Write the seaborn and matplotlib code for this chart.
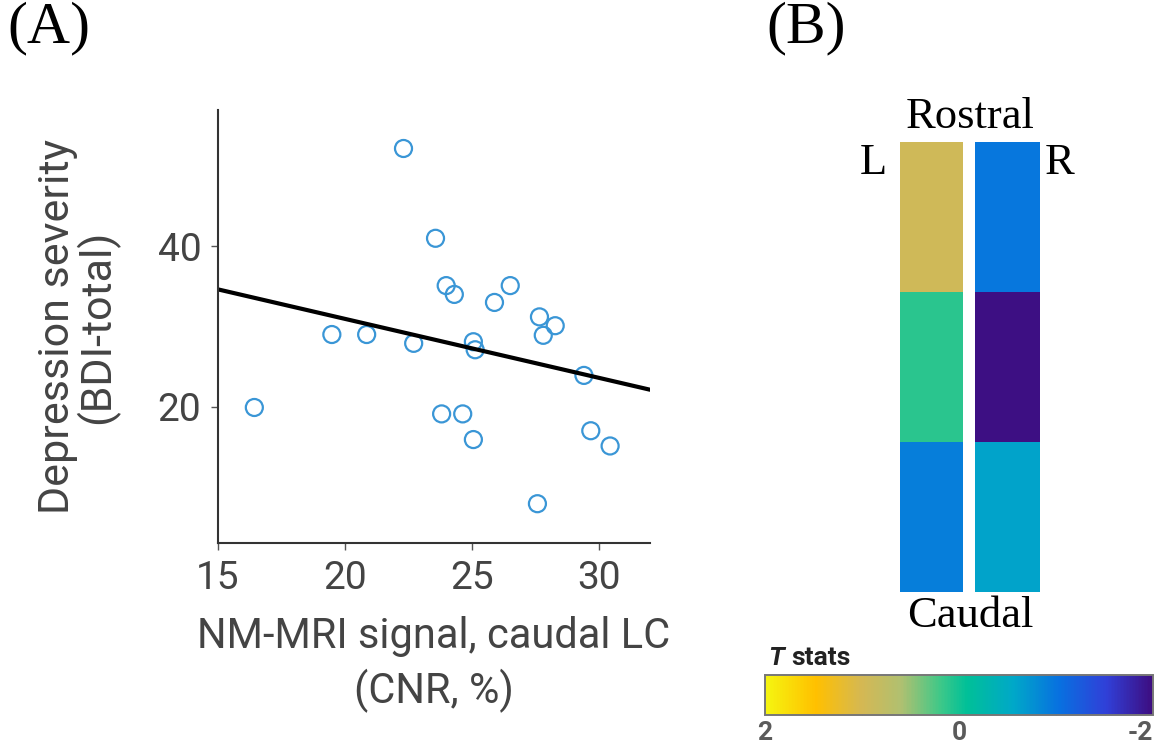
import numpy as np
import matplotlib
matplotlib.use("Agg")
import matplotlib.pyplot as plt
import seaborn as sns
from matplotlib.colors import LinearSegmentedColormap

# Panel A data
cnr = [22.3, 23.56, 23.98, 24.3, 25.88, 26.5, 27.65, 28.27, 27.8, 19.48, 20.85,
       22.7, 25.05, 25.12, 29.4, 16.43, 23.8, 24.63, 25.05, 29.67, 30.43, 27.57]
bdi = [52.2, 41.0, 35.1, 34.0, 33.0, 35.1, 31.2, 30.1, 28.9, 29.0, 29.0,
       27.9, 28.1, 27.1, 23.9, 19.9, 19.1, 19.1, 15.9, 17.0, 15.1, 7.9]

# Panel B data: T stats, rows rostral -> caudal
t_left = [0.95, 0.1, -0.92]
t_right = [-0.98, -1.98, -0.6]
cbar_ticks = [2, 0, -2]

# parula-like colours (low -> high)
cmap = LinearSegmentedColormap.from_list("parula_like", [
    (0.00, "#3d0d80"), (0.12, "#3040d8"), (0.24, "#0870e0"), (0.36, "#00a8c8"),
    (0.48, "#00c098"), (0.55, "#40c888"), (0.65, "#b0c070"), (0.75, "#d4b854"),
    (0.87, "#ffc000"), (1.00, "#f5f510")])

sns.set_style("white")
plt.rcParams["font.family"] = ["Roboto", "DejaVu Sans"]
plt.rcParams["axes.unicode_minus"] = False
grey = "#444444"
serif = "Liberation Serif"

fig = plt.figure(figsize=(11.64, 7.48), dpi=100)

# ---------------- (A) scatter + regression
ax = fig.add_axes([218 / 1164, 1 - 543 / 748, 432 / 1164, 433 / 748])
ax.set_xlim(15, 32)
ax.set_ylim(3, 57)
sns.scatterplot(x=cnr, y=bdi, ax=ax, marker="o", s=150, facecolors="none",
                edgecolors="#3a96d6", linewidth=1.6)
sns.regplot(x=cnr, y=bdi, ax=ax, scatter=False, ci=None, truncate=False,
            color="black", line_kws={"lw": 3})
ax.set_xlim(15, 32)
ax.set_ylim(3, 57)
ax.set_xticks([15, 20, 25, 30])
ax.set_yticks([20, 40])
sns.despine(ax=ax)
for s in ["left", "bottom"]:
    ax.spines[s].set_color("#333333")
    ax.spines[s].set_linewidth(1.5)
ax.tick_params(axis="both", direction="out", length=5, width=1, color="#555555",
               labelsize=28, labelcolor=grey, pad=7, bottom=True, left=True)
ax.set_xlabel("NM-MRI signal, caudal LC\n(CNR, %)", fontsize=30, color=grey,
              labelpad=14, linespacing=1.35)
ax.set_ylabel("Depression severity\n(BDI-total)", fontsize=31, color=grey,
              labelpad=28, linespacing=0.9)

fig.text(0.006, 0.998, "(A)", fontsize=43, family=serif, color="black",
         ha="left", va="top")
fig.text(0.658, 0.998, "(B)", fontsize=43, family=serif, color="black",
         ha="left", va="top")

# ---------------- (B) heat map columns
axL = fig.add_axes([900 / 1164, 1 - 592 / 748, 63 / 1164, 450 / 748])
axR = fig.add_axes([975 / 1164, 1 - 592 / 748, 65 / 1164, 450 / 748])
cax = fig.add_axes([765 / 1164, 1 - 715 / 748, 388 / 1164, 40 / 748])

sns.heatmap(np.array(t_left).reshape(-1, 1), ax=axL, cmap=cmap, vmin=-2, vmax=2,
            cbar=True, cbar_ax=cax, cbar_kws={"orientation": "horizontal"},
            xticklabels=False, yticklabels=False)
sns.heatmap(np.array(t_right).reshape(-1, 1), ax=axR, cmap=cmap, vmin=-2, vmax=2,
            cbar=False, xticklabels=False, yticklabels=False)

for txt, x, y in [("Rostral", 970, 117), ("Caudal", 970, 616),
                  ("L", 873, 163), ("R", 1060, 163)]:
    fig.text(x / 1164, 1 - y / 748, txt, fontsize=32, family=serif,
             color="black", ha="center", va="center")

# colour bar: 2 on the left, -2 on the right
cax.invert_xaxis()
cax.set_xticks(cbar_ticks)
cax.set_xticklabels([str(t) for t in cbar_ticks])
cax.set_xticks(np.arange(-1.5, 2.0, 0.5), minor=True)
cax.tick_params(axis="x", which="major", length=0, labelsize=19,
                labelcolor="#5a5a5a", pad=4)
cax.tick_params(axis="x", which="minor", direction="in", length=3,
                color="#444444", bottom=True)
labs = cax.get_xticklabels()
for lab in labs:
    lab.set_fontweight("bold")
labs[-1].set_horizontalalignment("right")
labs[-1].set_x(-2.05)
for sp in cax.spines.values():
    sp.set_visible(True)
    sp.set_edgecolor("#777777")
    sp.set_linewidth(1.2)

fig.text(768 / 1164, 1 - 670 / 748, "T", fontsize=19, fontweight="bold",
         fontstyle="italic", color="#222222", ha="left", va="bottom")
fig.text(791 / 1164, 1 - 670 / 748, "stats", fontsize=19, fontweight="bold",
         color="#222222", ha="left", va="bottom")

fig.savefig("out.png", dpi=100)
